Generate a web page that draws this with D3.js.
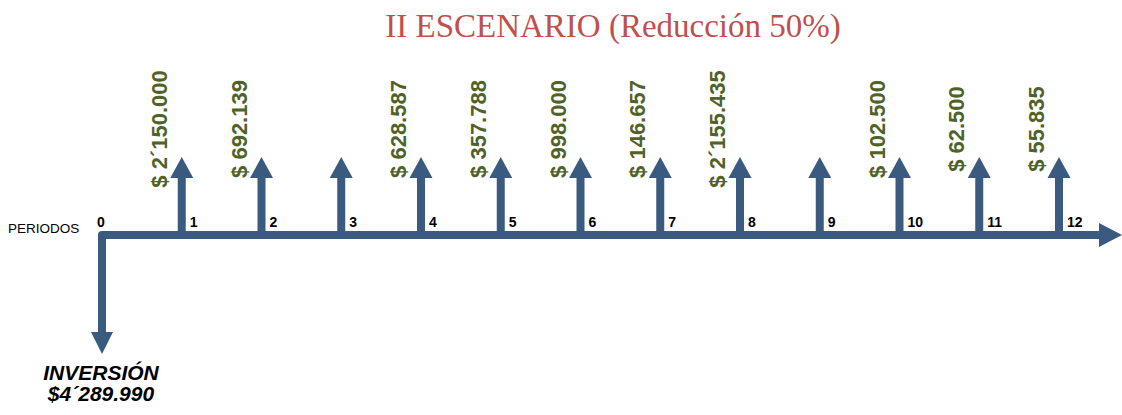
<!DOCTYPE html>
<html>
<head>
<meta charset="utf-8">
<script src="https://cdn.jsdelivr.net/npm/d3@7"></script>
<style>
  html, body { margin: 0; padding: 0; background: #ffffff; }
  svg { display: block; }
</style>
</head>
<body>
<svg id="chart" width="1122" height="415"></svg>
<script>
// Cash-flow diagram: 12 periods of inflows, one initial investment
const periods = [1, 2, 3, 4, 5, 6, 7, 8, 9, 10, 11, 12];
const inflows = [2150000, 692139, null, 628587, 357788, 998000, 146657, 2155435, null, 102500, 62500, 55835];
const investment = 4289990;
const titleText = "II ESCENARIO (Reducción 50%)";
const axisLabel = "PERIODOS";
const investmentLabel = "INVERSIÓN";

const arrowColor = "#3A5A80";
const valueColor = "#4F6228";
const titleColor = "#C0504D";

// Peso format: ´ separates millions, . separates thousands
function pesos(v) {
  const pad = n => String(n).padStart(3, "0");
  const m = Math.floor(v / 1e6);
  const rest = v % 1e6;
  const th = Math.floor(rest / 1000);
  const u = rest % 1000;
  if (m > 0) return m + "´" + pad(th) + "." + pad(u);
  return th + "." + pad(u);
}

const svg = d3.select("#chart");

const x = d3.scaleLinear().domain([0, 12]).range([102, 1059]);
const axisY = 235;
const stroke = 8;

// Title
svg.append("text")
  .attr("x", 613).attr("y", 37)
  .attr("text-anchor", "middle")
  .attr("font-family", "'Liberation Serif', serif")
  .attr("font-size", 33)
  .attr("fill", titleColor)
  .text(titleText);

// Time line with the downward investment leg (rounded outer corner)
const endX = 1100;
svg.append("path")
  .attr("d", `M${endX},${axisY} L${x(0)},${axisY} L${x(0)},333`)
  .attr("fill", "none")
  .attr("stroke", arrowColor)
  .attr("stroke-width", stroke)
  .attr("stroke-linejoin", "round");

// Arrow head at the end of the time line
svg.append("path")
  .attr("d", `M${endX - 1},${axisY - 12} L1122,${axisY} L${endX - 1},${axisY + 12} Z`)
  .attr("fill", arrowColor);

// Investment arrow head
svg.append("path")
  .attr("d", `M${x(0) - 11},332 L${x(0) + 11},332 L${x(0)},354 Z`)
  .attr("fill", arrowColor);

// Inflow arrows
const headTop = 157, headBase = 178;
const g = svg.append("g");
periods.forEach((p, i) => {
  const cx = x(p);
  g.append("line")
    .attr("x1", cx).attr("x2", cx)
    .attr("y1", headBase - 1).attr("y2", axisY)
    .attr("stroke", arrowColor)
    .attr("stroke-width", stroke);
  g.append("path")
    .attr("d", `M${cx - 11.5},${headBase} L${cx},${headTop} L${cx + 11.5},${headBase} Z`)
    .attr("fill", arrowColor);

  const v = inflows[i];
  if (v != null) {
    g.append("text")
      .attr("transform", `translate(${cx - 15},129) rotate(-90)`)
      .attr("text-anchor", "middle")
      .attr("font-family", "'Liberation Sans', Arial, sans-serif")
      .attr("font-weight", "bold")
      .attr("font-size", 22)
      .attr("fill", valueColor)
      .text("$ " + pesos(v));
  }
});

// Period numbers
const periodNums = [0].concat(periods);
svg.append("g").selectAll("text")
  .data(periodNums)
  .join("text")
  .attr("x", d => d === 0 ? x(0) - 5 : x(d) + 8)
  .attr("y", 227)
  .attr("font-family", "'Liberation Sans', Arial, sans-serif")
  .attr("font-weight", "bold")
  .attr("font-size", 14)
  .attr("fill", "#000")
  .text(d => d);

// Axis caption
svg.append("text")
  .attr("x", 8).attr("y", 233)
  .attr("font-family", "'Liberation Sans', Arial, sans-serif")
  .attr("font-size", 13.5)
  .attr("fill", "#000")
  .text(axisLabel);

// Investment caption
svg.append("text")
  .attr("x", 101).attr("y", 380)
  .attr("text-anchor", "middle")
  .attr("font-family", "'Liberation Sans', Arial, sans-serif")
  .attr("font-weight", "bold")
  .attr("font-style", "italic")
  .attr("font-size", 21)
  .attr("fill", "#000")
  .text(investmentLabel);

svg.append("text")
  .attr("x", 101).attr("y", 401)
  .attr("text-anchor", "middle")
  .attr("font-family", "'Liberation Sans', Arial, sans-serif")
  .attr("font-weight", "bold")
  .attr("font-style", "italic")
  .attr("font-size", 21)
  .attr("fill", "#000")
  .text("$" + pesos(investment));
</script>
</body>
</html>
